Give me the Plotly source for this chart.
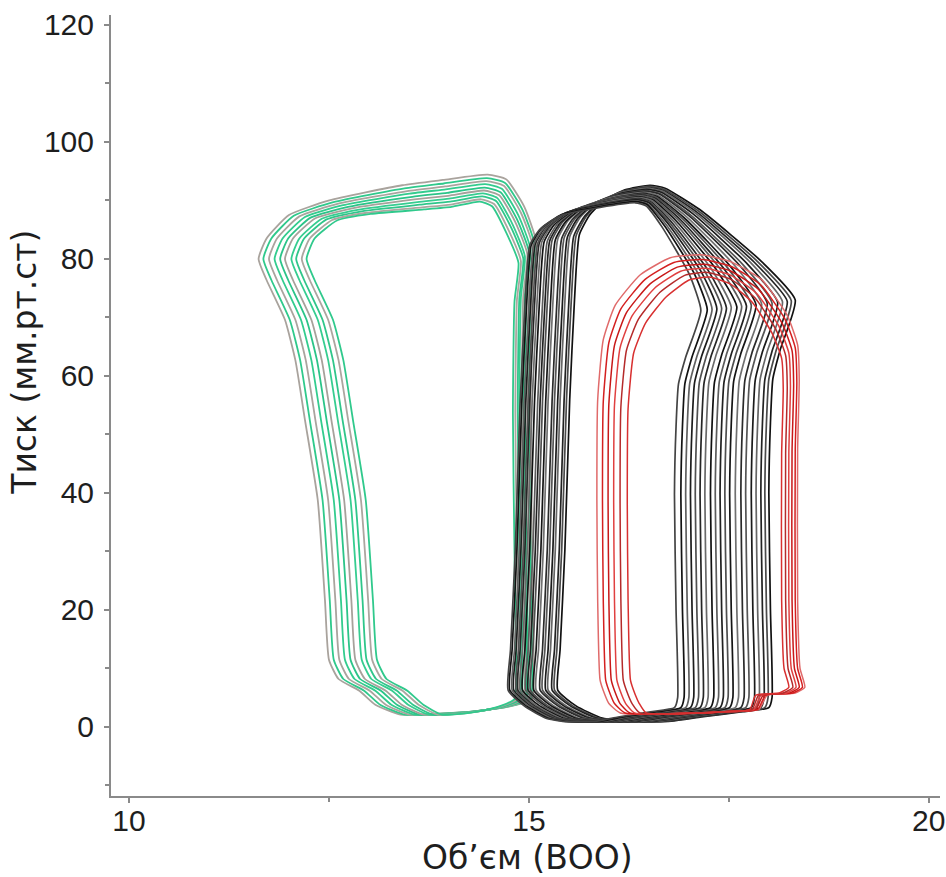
import plotly.graph_objects as go

# ---------------- data ----------------
# Template loops (outer beat of each group): volume, pressure,
# weight of ESV-side shift (WL), weight of EDV-side shift (WR), weight of peak-pressure drop (PW)
GREEN_VOL = [13.08, 13.39, 13.90, 14.30, 14.75, 15.00, 15.02, 15.00, 14.98, 15.00, 15.05, 14.90, 14.68, 14.45,
             13.90, 13.40, 12.50, 12.00, 11.72, 11.62, 11.72, 11.95, 12.08, 12.20, 12.36, 12.45, 12.50, 12.62,
             12.88, 13.08]
GREEN_P = [3.8, 2.1, 2.3, 2.7, 3.6, 4.8, 10, 30, 55, 75, 83, 89, 93.6, 94.4,
           93.5, 92.6, 90.0, 87.5, 83.5, 80.0, 76.4, 69.6, 62.7, 52.5, 38.8, 21.7, 11.5, 8.2,
           6.2, 3.8]
GREEN_WL = [1, 0.9, 0.6, 0.35, 0.1, 0, 0, 0, 0, 0, 0, 0, 0.05, 0.15,
            0.4, 0.6, 0.9, 1, 1, 1, 1, 1, 1, 1, 1, 1, 1, 1,
            1, 1]
GREEN_WR = [0, 0.1, 0.4, 0.65, 0.9, 1, 1, 1, 1, 1, 1, 1, 0.95, 0.85,
            0.6, 0.4, 0.1, 0, 0, 0, 0, 0, 0, 0, 0, 0, 0, 0,
            0, 0]
GREEN_PW = [0, 0, 0, 0, 0, 0, 0, 0.1, 0.3, 0.5, 0.8, 1, 1, 1,
            1, 0.9, 0.5, 0.2, 0, 0, 0, 0, 0, 0, 0, 0, 0, 0,
            0, 0]
# per beat: ESV-side shift, EDV-side shift, drop of peak pressure (mmHg), colour
GREEN_DXL = [0.00, 0.06, 0.13, 0.20, 0.27, 0.33, 0.41, 0.47, 0.54, 0.60]
GREEN_DXR = [0.04, 0.02, 0.00, -0.03, -0.05, -0.07, -0.10, -0.12, -0.15, -0.18]
GREEN_DP = [0.0, 0.6, 1.1, 1.6, 2.2, 2.7, 3.2, 3.7, 4.2, 4.6]
GREEN_COL = ["#a9a39d", "#2fc98b", "#aaa49e", "#33cc8e", "#2bc488", "#a7a19b", "#36cd90", "#2fc68a", "#aca6a0", "#30c98c"]

BLACK_VOL = [15.00, 15.39, 15.89, 16.50, 17.00, 17.64, 18.00, 18.04, 18.02, 18.00, 18.02, 18.05, 18.14, 18.33,
             17.89, 17.14, 16.64, 16.39, 15.89, 15.39, 15.14, 15.01, 14.95, 14.89, 14.83, 14.77, 14.74, 15.00]
BLACK_P = [3.6, 1.5, 0.9, 1.0, 1.7, 2.6, 3.3, 5, 20, 40, 52, 59.5, 64.4, 73.0,
           79.8, 88.4, 92.1, 92.6, 91.8, 90.1, 87.5, 84.1, 73, 55.9, 30.3, 13.2, 6.3, 3.6]
BLACK_WL = [0.95, 0.85, 0.65, 0.45, 0.25, 0.05, 0, 0, 0, 0, 0, 0, 0, 0,
            0, 0, 0.1, 0.2, 0.5, 0.9, 1, 1, 1, 1, 1, 1, 1, 0.95]
BLACK_WR = [0.05, 0.15, 0.35, 0.55, 0.75, 0.95, 1, 1, 1, 1, 1, 1, 1, 1,
            0.75, 0.4, 0.15, 0.05, 0, 0, 0, 0, 0, 0, 0, 0, 0, 0.05]
BLACK_PW = [0, 0, 0, 0, 0, 0, 0, 0, 0, 0.1, 0.2, 0.3, 0.4, 0.6,
            0.8, 1, 1, 1, 1, 0.9, 0.8, 0.6, 0.4, 0.2, 0, 0, 0, 0]
BLACK_DXL = [0.62, 0.58, 0.55, 0.50, 0.47, 0.43, 0.40, 0.35, 0.32, 0.28,
             0.25, 0.22, 0.18, 0.15, 0.12, 0.10, 0.07, 0.05, 0.02, 0.00]
BLACK_DXR = [0.00, -0.05, -0.10, -0.16, -0.22, -0.29, -0.35, -0.42, -0.49, -0.55,
             -0.61, -0.67, -0.73, -0.80, -0.86, -0.92, -0.98, -1.04, -1.10, -1.18]
BLACK_DP = [0.0, 0.2, 0.4, 0.5, 0.7, 0.9, 1.0, 1.2, 1.4, 1.5,
            1.7, 1.8, 2.0, 2.1, 2.3, 2.4, 2.5, 2.7, 2.8, 3.0]
BLACK_COL = ["#111111", "#4a4a4a", "#222222", "#666666", "#1a1a1a", "#555555", "#2a2a2a", "#707070", "#151515", "#4f4f4f",
             "#202020", "#5c5c5c", "#111111", "#6a6a6a", "#262626", "#505050", "#1c1c1c", "#606060", "#121212", "#444444"]

RED_VOL = [16.00, 16.14, 16.80, 17.40, 17.85, 17.95, 18.30, 18.42, 18.36, 18.33, 18.33, 18.35, 18.33, 18.20,
           17.89, 17.51, 17.14, 16.76, 16.39, 16.08, 15.93, 15.86, 15.85, 15.86, 15.89, 15.95, 16.00]
RED_P = [4.0, 2.4, 2.3, 2.6, 3.0, 5.4, 5.8, 6.8, 10, 21.7, 47.4, 59.3, 65.3, 70.4,
         76.4, 79.5, 80.7, 80.2, 77.3, 72.1, 66.2, 55.9, 38.8, 21.7, 8.0, 5.5, 4.0]
RED_WL = [1, 0.9, 0.65, 0.4, 0.15, 0.1, 0, 0, 0, 0, 0, 0, 0, 0,
          0.1, 0.3, 0.5, 0.75, 0.9, 1, 1, 1, 1, 1, 1, 1, 1]
RED_WR = [0, 0.1, 0.35, 0.6, 0.85, 0.9, 1, 1, 1, 1, 1, 1, 1, 0.95,
          0.8, 0.6, 0.45, 0.25, 0.1, 0, 0, 0, 0, 0, 0, 0, 0]
RED_PW = [0, 0, 0, 0, 0, 0, 0, 0, 0, 0, 0.2, 0.4, 0.6, 0.8,
          1, 1, 1, 1, 1, 0.8, 0.6, 0.4, 0.2, 0, 0, 0, 0]
RED_DXL = [0.00, 0.07, 0.14, 0.21, 0.29, 0.38]
RED_DXR = [0.03, 0.00, -0.04, -0.08, -0.12, -0.17]
RED_DP = [0.0, 0.8, 1.6, 2.3, 3.0, 3.8]
RED_COL = ["#e06a6a", "#d42020", "#c81818", "#e04040", "#b52a2a", "#d83030"]

X_TICKS = [10, 15, 20]
Y_TICKS = [0, 20, 40, 60, 80, 100, 120]
X_TITLE = "Об’єм (ВОО)"
Y_TITLE = "Тиск (мм.рт.ст)"

# ---------------- figure ----------------
fig = go.Figure()


def add_group(vol, p, wl, wr, pw, dxl, dxr, dp, cols, width):
    for i in range(len(dxl)):
        xs = [v + dxl[i] * a + dxr[i] * b for v, a, b in zip(vol, wl, wr)]
        ys = [pp - dp[i] * c for pp, c in zip(p, pw)]
        fig.add_trace(go.Scatter(x=xs, y=ys, mode="lines",
                                 line=dict(color=cols[i], width=width, shape="spline", smoothing=0.5),
                                 showlegend=False, hoverinfo="skip"))


add_group(GREEN_VOL, GREEN_P, GREEN_WL, GREEN_WR, GREEN_PW, GREEN_DXL, GREEN_DXR, GREEN_DP, GREEN_COL, 1.8)
add_group(BLACK_VOL, BLACK_P, BLACK_WL, BLACK_WR, BLACK_PW, BLACK_DXL, BLACK_DXR, BLACK_DP, BLACK_COL, 1.7)
add_group(RED_VOL, RED_P, RED_WL, RED_WR, RED_PW, RED_DXL, RED_DXR, RED_DP, RED_COL, 1.5)

tick_font = "Liberation Sans, Arial, sans-serif"
title_font = "DejaVu Sans, sans-serif"
axis_common = dict(showline=True, linecolor="#8a8a8a", linewidth=2, showgrid=False, zeroline=False,
                   automargin=False, ticks="outside", ticklen=5, tickwidth=2, tickcolor="#8a8a8a",
                   tickfont=dict(family=tick_font, size=30, color="#1e1e1e"))

fig.update_layout(
    width=946, height=877,
    margin=dict(l=111, r=6, t=15, b=81),
    paper_bgcolor="white", plot_bgcolor="white",
    xaxis=dict(range=[9.775, 20.14], tickvals=X_TICKS, ticklabelstandoff=-8,
               minor=dict(dtick=2.5, tick0=10, ticks="outside", ticklen=4, tickwidth=2, tickcolor="#8a8a8a"),
               **axis_common),
    yaxis=dict(range=[-11.8, 121.7], tickvals=Y_TICKS, ticklabelstandoff=4,
               minor=dict(dtick=10, tick0=0, ticks="outside", ticklen=4, tickwidth=2, tickcolor="#8a8a8a"),
               **axis_common),
    annotations=[
        dict(text=X_TITLE, xref="paper", yref="paper", x=0.502, y=-0.079, showarrow=False,
             xanchor="center", yanchor="middle", font=dict(family=title_font, size=33, color="#1e1e1e")),
        dict(text=Y_TITLE, xref="paper", yref="paper", x=-0.104, y=0.5557, showarrow=False, textangle=-90,
             xanchor="center", yanchor="middle", font=dict(family=title_font, size=33, color="#1e1e1e")),
    ],
)

fig.write_html("out.html", config={"displayModeBar": False},
               post_script="document.body.style.margin='0px';")
